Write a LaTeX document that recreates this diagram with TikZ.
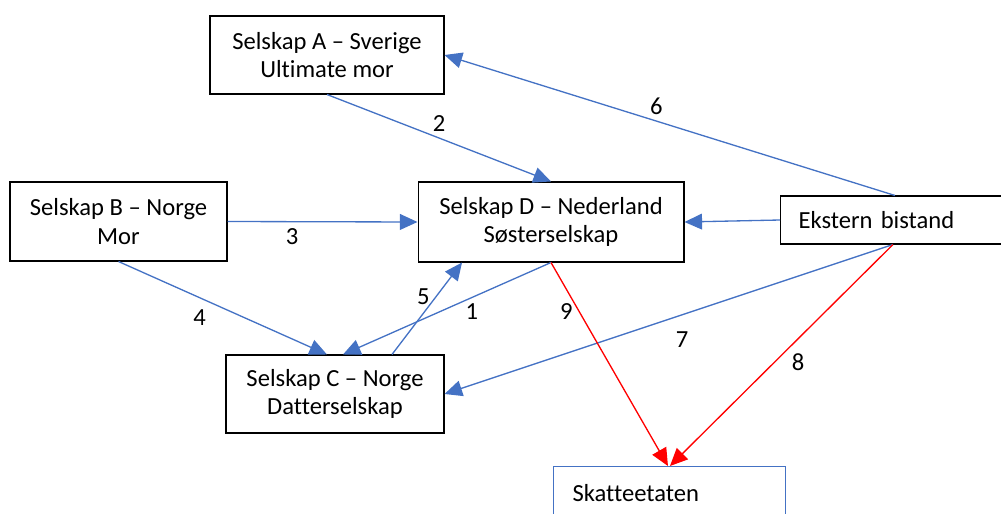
\documentclass[tikz,border=0pt]{standalone}
\usepackage{fontspec}
\setmainfont{Carlito}[Ligatures=NoCommon]
\usepackage{xcolor}
\usetikzlibrary{arrows.meta}
\definecolor{linkblue}{RGB}{68,114,196}

\begin{document}
\begin{tikzpicture}[x=0.02cm, y=-0.02cm,
        font=\fontsize{14}{16}\selectfont,
        box/.style={draw, line width=0.6pt, align=center, inner sep=0pt},
        link/.style={draw=linkblue, line width=0.75pt, -{Triangle[length=10pt, width=9pt]}},
        taxlink/.style={draw=red, line width=0.75pt, -{Triangle[length=10pt, width=9pt]}}]
        \useasboundingbox (0, 0) rectangle (1001, 514);
        \node[box, minimum width=4.68cm, minimum height=1.56cm] at (327, 55) (A) {Selskap A – Sverige\\Ultimate mor};
        \node[box, minimum width=4.34cm, minimum height=1.58cm] at (118.5, 221.5) (B) {Selskap B – Norge\\Mor};
        \node[box, minimum width=5.32cm, minimum height=1.6cm] at (551, 222) (D) {Selskap D – Nederland\\Søsterselskap};
        \node[box, minimum width=4.36cm, minimum height=1.56cm] at (335, 394) (C) {Selskap C – Norge\\Datterselskap};
        \node[draw, line width=0.6pt, anchor=west, inner xsep=0.36cm, inner ysep=0pt, text width=4.88cm, minimum height=0.96cm, align=left] at (780, 220) (E) {Ekstern bistand};
        \node[draw=linkblue, line width=0.6pt, anchor=north west, inner xsep=0.38cm, inner ysep=0pt, text width=3.88cm, minimum height=1.08cm, align=left] at (553, 466) (S) {Skatteetaten};
        \draw[link] (D.south) -- node[below, pos=.38] {1} ([xshift=0.16cm]C.north);
        \draw[link] (A.south) -- node[above] {2} (D.north);
        \draw[link] (B.east) -- node[below, pos=.34] {3} (D.west);
        \draw[link] (B.south) -- node[below left, pos=.45] {4} ([xshift=-0.16cm]C.north);
        \draw[link] ([xshift=1.14cm]C.north) -- node[left, pos=.63] {5} ([xshift=-1.78cm]D.south);
        \draw[link] ([xshift=2.3cm]E.north west) -- node[above, pos=.53] {6} (A.east);
        \draw[link] ([xshift=2.26cm]E.south west) -- node[below=6pt, pos=.47] {7} (C.east);
        \draw[link] (E.west) -- (D.east);
        \draw[taxlink] ([xshift=2.26cm]E.south west) -- node[right=6pt, pos=.53] {8} ([xshift=2.34cm]S.north west);
        \draw[taxlink] (D.south) -- node[left, pos=.24] {9} ([xshift=2.3cm]S.north west);
\end{tikzpicture}
\end{document}
